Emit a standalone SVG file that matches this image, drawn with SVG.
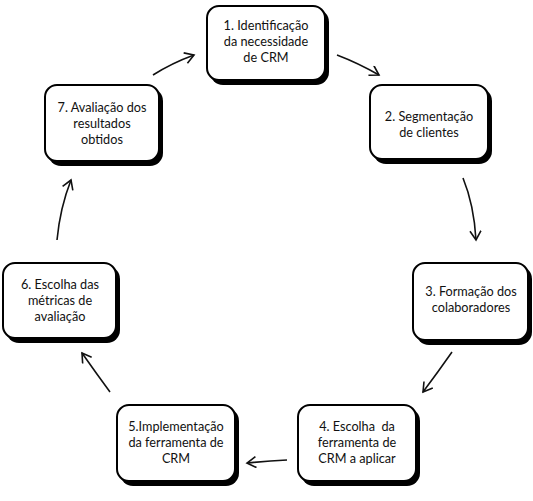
<svg xmlns="http://www.w3.org/2000/svg" width="533" height="501" viewBox="0 0 533 501">
<style>
.sh{fill:#000}
.bx{fill:#fff;stroke:#000;stroke-width:2}
.t{font-family:Lato,"Open Sans",sans-serif;font-size:12.7px;fill:#111;text-anchor:middle}
.c{fill:none;stroke:#111;stroke-width:1.6}
</style>
<defs>
<marker id="a" markerWidth="14" markerHeight="14" refX="10" refY="6" orient="auto" markerUnits="userSpaceOnUse">
<path d="M1,0.5 L10,6 L1,11.5" fill="none" stroke="#111" stroke-width="1.6"/>
</marker>
</defs>
<rect width="533" height="501" fill="#fff"/>
<g id="n1">
<rect class="sh" x="210" y="9" width="119" height="76" rx="13"/>
<rect class="bx" x="207" y="6" width="118" height="74" rx="12"/>
<text class="t" x="266" y="30">1. Identificação</text>
<text class="t" x="266" y="46">da necessidade</text>
<text class="t" x="266" y="62">de CRM</text>
</g>
<g id="n2">
<rect class="sh" x="373" y="88" width="119" height="76" rx="13"/>
<rect class="bx" x="370" y="85" width="118" height="74" rx="12"/>
<text class="t" x="429" y="121">2. Segmentação</text>
<text class="t" x="429" y="137">de clientes</text>
</g>
<g id="n3">
<rect class="sh" x="416" y="266" width="116" height="79" rx="13"/>
<rect class="bx" x="413" y="263" width="115" height="77" rx="12"/>
<text class="t" x="471" y="296">3. Formação dos</text>
<text class="t" x="471" y="312">colaboradores</text>
</g>
<g id="n4">
<rect class="sh" x="301" y="408" width="119" height="78" rx="13"/>
<rect class="bx" x="298" y="405" width="118" height="76" rx="12"/>
<text class="t" x="357" y="431" xml:space="preserve">4. Escolha  da</text>
<text class="t" x="357" y="447">ferramenta de</text>
<text class="t" x="357" y="463">CRM a aplicar</text>
</g>
<g id="n5">
<rect class="sh" x="120" y="408" width="119" height="78" rx="13"/>
<rect class="bx" x="117" y="405" width="118" height="76" rx="12"/>
<text class="t" x="176" y="431">5.Implementação</text>
<text class="t" x="176" y="447">da ferramenta de</text>
<text class="t" x="176" y="463">CRM</text>
</g>
<g id="n6">
<rect class="sh" x="6" y="266" width="114" height="77" rx="13"/>
<rect class="bx" x="3" y="263" width="113" height="75" rx="12"/>
<text class="t" x="60" y="289">6. Escolha das</text>
<text class="t" x="60" y="305">métricas de</text>
<text class="t" x="60" y="321">avaliação</text>
</g>
<g id="n7">
<rect class="sh" x="48" y="88" width="115" height="78" rx="13"/>
<rect class="bx" x="45" y="85" width="114" height="76" rx="12"/>
<text class="t" x="102" y="112">7. Avaliação dos</text>
<text class="t" x="102" y="128">resultados</text>
<text class="t" x="102" y="144">obtidos</text>
</g>
<g id="connectors">
<path class="c" d="M153,75 Q172,63 194,55" marker-end="url(#a)"/>
<path class="c" d="M337,55 Q358,63 379,75" marker-end="url(#a)"/>
<path class="c" d="M463,178 Q474,205 476,240" marker-end="url(#a)"/>
<path class="c" d="M452,352 Q438,372 423,392" marker-end="url(#a)"/>
<path class="c" d="M287,460 Q267,461 247,463" marker-end="url(#a)"/>
<path class="c" d="M110,392 Q96,373 82,353" marker-end="url(#a)"/>
<path class="c" d="M57,240 Q60,208 71,180" marker-end="url(#a)"/>
</g>
</svg>
